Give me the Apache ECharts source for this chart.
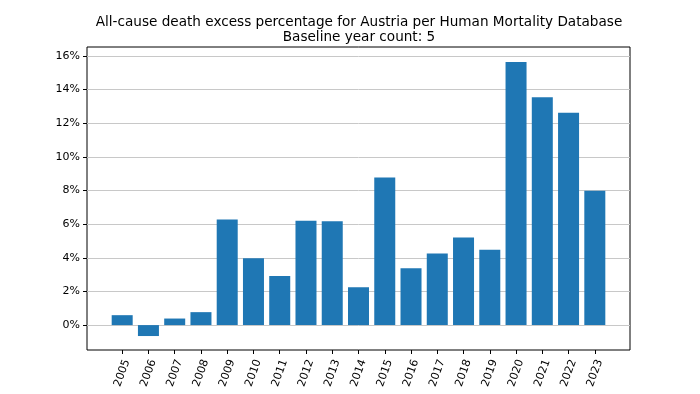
<!DOCTYPE html>
<html>
<head>
<meta charset="utf-8">
<script src="https://cdn.jsdelivr.net/npm/echarts@6/dist/echarts.min.js"></script>
<style>html,body{margin:0;padding:0;background:#fff}#c{width:700px;height:394px}</style>
</head>
<body>
<div id="c"></div>
<script>
const years = ['2005','2006','2007','2008','2009','2010','2011','2012','2013','2014','2015','2016','2017','2018','2019','2020','2021','2022','2023'];
const excessPct = [0.59, -0.65, 0.39, 0.77, 6.28, 3.97, 2.92, 6.2, 6.18, 2.25, 8.78, 3.38, 4.25, 5.2, 4.48, 15.64, 13.55, 12.62, 7.98];
const yTicks = [0, 2, 4, 6, 8, 10, 12, 14, 16];
const xTicks = years.map((y, i) => i);

const chart = echarts.init(document.getElementById('c'), null, {renderer: 'canvas'});
const font = 'DejaVu Sans';
chart.setOption({
  animation: false,
  backgroundColor: '#fff',
  title: {
    text: 'All-cause death excess percentage for Austria per Human Mortality Database\nBaseline year count: 5',
    left: 354, top: 10, textAlign: 'center',
    textStyle: {fontFamily: font, fontSize: 13.6, fontWeight: 'normal', color: '#000', lineHeight: 14.7}
  },
  grid: {left: 87, right: 70, top: 47, bottom: 44, show: true, borderColor: '#000', borderWidth: 1, backgroundColor: 'transparent'},
  xAxis: {
    type: 'value', min: -1.34, max: 19.34,
    axisLine: {show: false, onZero: false},
    splitLine: {show: false},
    axisTick: {show: true, customValues: xTicks, length: 4, lineStyle: {color: '#000'}},
    axisLabel: {show: true, customValues: xTicks, rotate: 70, margin: 23, align: 'center', verticalAlign: 'middle',
      fontFamily: font, fontSize: 11, color: '#000',
      formatter: v => years[Math.round(v)] || ''}
  },
  yAxis: {
    type: 'value', min: -1.48, max: 16.53,
    axisLine: {show: false, onZero: false},
    splitLine: {show: true, lineStyle: {color: '#c8c8c8', width: 1}},
    axisTick: {show: true, customValues: yTicks, length: 4, lineStyle: {color: '#000'}},
    axisLabel: {show: true, customValues: yTicks, margin: 7, fontFamily: font, fontSize: 11, color: '#000',
      formatter: v => v + '%'}
  },
  series: [{
    type: 'bar',
    data: excessPct.map((v, i) => [i, v]),
    barWidth: '80%',
    itemStyle: {color: '#1f77b4'},
    z: 3
  }]
});
</script>
</body>
</html>
